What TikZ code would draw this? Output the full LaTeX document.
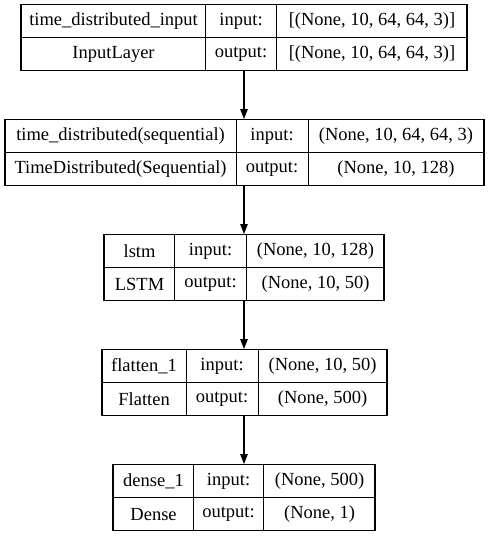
\documentclass[tikz,border=0pt]{standalone}
\usepackage{fontspec}
\setmainfont{Liberation Serif}
\usetikzlibrary{arrows.meta}

\tikzset{
  cell/.style={draw, line width=1.1pt, inner sep=0pt, minimum height=33pt,
               anchor=north west, font=\fontsize{18.5}{22}\selectfont},
  frame/.style={draw, line width=1.1pt, inner sep=0pt, minimum height=66pt, anchor=north},
  flow/.style={->, line width=1.1pt, >={Triangle[length=10pt,width=7.5pt]}},
}

% one layer: id, top, widths of the three columns, name, class, input, output
\newcommand\layerbox[9]{%
  \pgfmathsetmacro\lbsum{#3+#4+#5}
  \pgfmathsetmacro\lbxa{244-\lbsum/2}
  \pgfmathsetmacro\lbxb{\lbxa+#3}
  \pgfmathsetmacro\lbxc{\lbxb+#4}
  \pgfmathsetmacro\lbyb{#2+33}
  \node[frame, minimum width=\lbsum pt] (#1) at (244,#2) {};
  \node[cell, minimum width=#3pt] (#1-name) at (\lbxa,#2)   {#6};
  \node[cell, minimum width=#3pt] (#1-type) at (\lbxa,\lbyb) {#7};
  \node[cell, minimum width=#4pt] (#1-ki)   at (\lbxb,#2)   {input:};
  \node[cell, minimum width=#4pt] (#1-ko)   at (\lbxb,\lbyb) {output:};
  \node[cell, minimum width=#5pt] (#1-in)   at (\lbxc,#2)   {#8};
  \node[cell, minimum width=#5pt] (#1-out)  at (\lbxc,\lbyb) {#9};
}

\begin{document}
\begin{tikzpicture}[x=1pt, y=-1pt]
  \useasboundingbox (0,0) rectangle (488,536);

  \layerbox{inp}{4}{184}{71}{191}{time\_distributed\_input}{InputLayer}%
    {[(None, 10, 64, 64, 3)]}{[(None, 10, 64, 64, 3)]}
  \layerbox{td}{119}{231}{72}{176}{time\_distributed(sequential)}%
    {TimeDistributed(Sequential)}{(None, 10, 64, 64, 3)}{(None, 10, 128)}
  \layerbox{lstm}{234}{70}{72}{138}{lstm}{LSTM}{(None, 10, 128)}{(None, 10, 50)}
  \layerbox{flat}{349}{84}{72}{129}{flatten\_1}{Flatten}{(None, 10, 50)}{(None, 500)}
  \layerbox{dense}{464}{80}{70}{112}{dense\_1}{Dense}{(None, 500)}{(None, 1)}

  \draw[flow] (inp.south)  -- (td.north);
  \draw[flow] (td.south)   -- (lstm.north);
  \draw[flow] (lstm.south) -- (flat.north);
  \draw[flow] (flat.south) -- (dense.north);
\end{tikzpicture}
\end{document}
